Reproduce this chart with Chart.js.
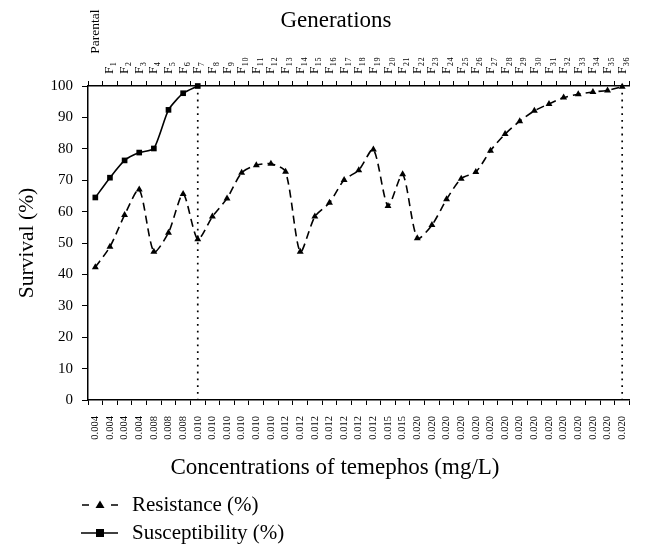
<!DOCTYPE html>
<html>
<head>
<meta charset="utf-8">
<script src="https://cdn.jsdelivr.net/npm/chart.js@4"></script>
<style>
  html, body { margin: 0; padding: 0; background: #fff; }
  #wrap { width: 646px; height: 559px; }
</style>
</head>
<body>
<div id="wrap"><canvas id="c" width="646" height="559"></canvas></div>
<script>
const generations = ['Parental','F₁','F₂','F₃','F₄','F₅','F₆','F₇','F₈','F₉','F₁₀','F₁₁','F₁₂','F₁₃','F₁₄','F₁₅','F₁₆','F₁₇','F₁₈','F₁₉','F₂₀','F₂₁','F₂₂','F₂₃','F₂₄','F₂₅','F₂₆','F₂₇','F₂₈','F₂₉','F₃₀','F₃₁','F₃₂','F₃₃','F₃₄','F₃₅','F₃₆'];
const concentrations = ['0.004','0.004','0.004','0.004','0.008','0.008','0.008','0.010','0.010','0.010','0.010','0.010','0.010','0.012','0.012','0.012','0.012','0.012','0.012','0.012','0.015','0.015','0.020','0.020','0.020','0.020','0.020','0.020','0.020','0.020','0.020','0.020','0.020','0.020','0.020','0.020','0.020'];
const resistance = [42.3,48.8,58.9,67.0,47.2,53.3,65.6,51.2,58.4,64.2,72.4,74.8,75.2,72.7,47.2,58.4,62.8,70.1,73.2,79.8,61.8,71.9,51.5,55.7,63.9,70.5,72.6,79.4,84.7,88.8,92.1,94.3,96.3,97.4,98.1,98.6,99.8];
const susceptibility = [64.5,70.8,76.3,78.8,80.1,92.4,97.7,100,null,null,null,null,null,null,null,null,null,null,null,null,null,null,null,null,null,null,null,null,null,null,null,null,null,null,null,null,null];
const markerGenerations = ['F₇','F₃₆'];
const yTicks = [0,10,20,30,40,50,60,70,80,90,100];
const topTitle = 'Generations';
const bottomTitle = 'Concentrations of temephos (mg/L)';
const leftTitle = 'Survival (%)';

const FONT = "'Liberation Serif', 'DejaVu Serif', serif";
const TOP_TICK_SIZE = 13.5;

const vlinePlugin = {
  id: 'vlines',
  afterDatasetsDraw(chart) {
    const {ctx} = chart;
    const xs = chart.scales.x, ys = chart.scales.y;
    ctx.save();
    ctx.strokeStyle = '#000';
    ctx.lineWidth = 1.7;
    ctx.setLineDash([1.8, 5]);
    markerGenerations.forEach(g => {
      const i = generations.indexOf(g);
      const px = xs.getPixelForValue(i);
      ctx.beginPath();
      ctx.moveTo(px, ys.getPixelForValue(100));
      ctx.lineTo(px, ys.getPixelForValue(0));
      ctx.stroke();
    });
    ctx.restore();
  }
};

const titlesPlugin = {
  id: 'xTitles',
  afterDraw(chart) {
    const {ctx} = chart;
    ctx.save();
    ctx.fillStyle = '#000';
    ctx.font = "23px " + FONT;
    ctx.textAlign = 'center';
    ctx.textBaseline = 'middle';
    ctx.fillText(topTitle, 336, 21);
    ctx.fillText(bottomTitle, 335, 468);
    ctx.restore();
  }
};

const legendPlugin = {
  id: 'customLegend',
  afterDraw(chart) {
    const {ctx} = chart;
    const rows = [505, 533];
    ctx.save();
    chart.data.datasets.forEach((ds, k) => {
      const y = rows[k];
      ctx.strokeStyle = '#000';
      ctx.fillStyle = '#000';
      ctx.lineWidth = 1.6;
      ctx.setLineDash([]);
      ctx.beginPath();
      if (ds.borderDash) {
        ctx.moveTo(82, y); ctx.lineTo(89, y);
        ctx.moveTo(111, y); ctx.lineTo(118, y);
      } else {
        ctx.moveTo(81, y); ctx.lineTo(118, y);
      }
      ctx.stroke();
      if (ds.pointStyle === 'triangle') {
        ctx.beginPath();
        ctx.moveTo(100, y - 4.5); ctx.lineTo(104.5, y + 3); ctx.lineTo(95.5, y + 3); ctx.closePath();
        ctx.fill();
      } else {
        ctx.fillRect(96, y - 4, 8, 8);
      }
      ctx.font = "21px " + FONT;
      ctx.textBaseline = 'middle';
      ctx.textAlign = 'left';
      ctx.fillText(ds.label, 132, y);
    });
    ctx.restore();
  }
};

new Chart(document.getElementById('c'), {
  type: 'line',
  data: {
    labels: concentrations,
    datasets: [
      {
        label: 'Resistance (%)',
        data: resistance,
        xAxisID: 'x',
        yAxisID: 'y',
        borderColor: '#000',
        backgroundColor: '#000',
        borderWidth: 1.6,
        borderDash: [8, 5],
        pointStyle: 'triangle',
        pointRadius: 4,
        pointBorderWidth: 0,
        tension: 0.25,
        fill: false,
        clip: false
      },
      {
        label: 'Susceptibility (%)',
        data: susceptibility,
        xAxisID: 'x',
        yAxisID: 'y',
        borderColor: '#000',
        backgroundColor: '#000',
        borderWidth: 1.6,
        pointStyle: 'rect',
        pointRadius: 4,
        pointBorderWidth: 0,
        tension: 0.2,
        fill: false,
        clip: false
      }
    ]
  },
  options: {
    responsive: false,
    animation: false,
    devicePixelRatio: 1,
    layout: { padding: { left: 0, right: 14, top: 0, bottom: 77 } },
    plugins: {
      legend: { display: false },
      tooltip: { enabled: false }
    },
    scales: {
      x: {
        type: 'category',
        position: 'bottom',
        labels: concentrations,
        offset: true,
        grid: { drawOnChartArea: false, offset: true, tickLength: 5, color: '#000', lineWidth: 1 },
        border: { display: true, color: '#000', width: 1.5 },
        ticks: { autoSkip: false, maxRotation: 90, minRotation: 90, padding: 11, color: '#000', font: { family: FONT, size: 10.5 } },
        title: { display: false, text: bottomTitle },
        afterFit(s) { s.height = 82; }
      },
      xTop: {
        type: 'category',
        position: 'top',
        labels: generations,
        offset: true,
        grid: { drawOnChartArea: false, offset: true, tickLength: 5, color: '#000', lineWidth: 1 },
        border: { display: true, color: '#000', width: 1.5 },
        ticks: {
          autoSkip: false, maxRotation: 90, minRotation: 90, padding: 7, color: '#000',
          labelOffset: TOP_TICK_SIZE * 1.2,
          font: { family: FONT, size: TOP_TICK_SIZE, lineHeight: 1.2 },
          callback(value, index) { return index === 0 ? '      ' + generations[index] : generations[index]; }
        },
        title: { display: false, text: topTitle },
        afterFit(s) { s.height = 86; }
      },
      y: {
        type: 'linear',
        position: 'left',
        min: 0,
        max: 100,
        afterBuildTicks(s) { s.ticks = yTicks.map(v => ({ value: v })); },
        grid: { drawOnChartArea: false, tickLength: 6, color: '#000', lineWidth: 1 },
        border: { display: true, color: '#000', width: 1.5 },
        ticks: { padding: 9, color: '#000', font: { family: FONT, size: 15 } },
        title: { display: true, text: leftTitle, color: '#000', font: { family: FONT, size: 21.5 }, padding: { top: 14, bottom: 0 } },
        afterFit(s) { s.width = 88; }
      }
    }
  },
  plugins: [vlinePlugin, titlesPlugin, legendPlugin]
});
</script>
</body>
</html>
